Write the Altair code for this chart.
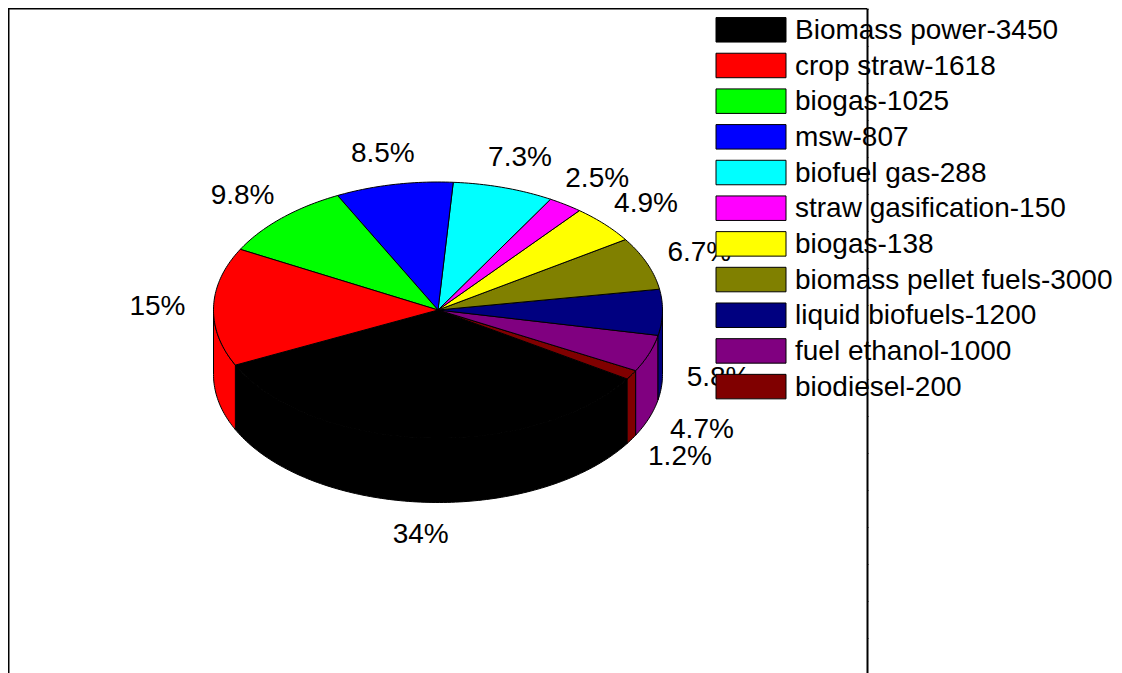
import math
import altair as alt

legend_labels = ["Biomass power-3450", "crop straw-1618", "biogas-1025", "msw-807",
                 "biofuel gas-288", "straw gasification-150", "biogas-138",
                 "biomass pellet fuels-3000", "liquid biofuels-1200",
                 "fuel ethanol-1000", "biodiesel-200"]
colors = ["#000000", "#ff0000", "#00ff00", "#0000ff", "#00ffff", "#ff00ff", "#ffff00",
          "#808000", "#000080", "#800080", "#800000"]
# percentage printed beside each slice, in legend order
pct_labels = ["34%", "15%", "9.8%", "8.5%", "7.3%", "2.5%", "4.9%", "6.7%", "5.8%", "4.7%", "1.2%"]
pct_values = [34, 15, 9.8, 8.5, 7.3, 2.5, 4.9, 6.7, 5.8, 4.7, 1.2]
# counter-clockwise order of the slices round the pie, beginning with the black one
pie_order = [0, 10, 9, 8, 7, 6, 5, 4, 3, 2, 1]

W, H = 859, 665
CX, CY, RX, RY, DEPTH = 430.0, 302.0, 224.5, 128.0, 64.5
START = 205.5
total = sum(pct_values)


def pt(t, dz=0.0, r=1.0):
    a = math.radians(t)
    return [CX + RX * r * math.cos(a), CY - RY * r * math.sin(a) + dz]


def arc(t0, t1, dz=0.0):
    n = max(2, int(abs(t1 - t0)) + 2)
    return [pt(t0 + (t1 - t0) * i / (n - 1), dz) for i in range(n)]


def feature(ring, color):
    return {"type": "Feature", "properties": {"color": color},
            "geometry": {"type": "Polygon", "coordinates": [ring + [ring[0]]]}}


walls, tops, labels = [], [], []
t = START
for idx in pie_order:
    v = pct_values[idx]
    t1 = t + v * 360.0 / total
    tops.append(feature([[CX, CY]] + arc(t, t1), colors[idx]))
    for lo, hi in ((180, 360), (540, 720)):
        a, b = max(t, lo), min(t1, hi)
        if a < b:
            walls.append(feature(arc(a, b) + arc(a, b, DEPTH)[::-1], colors[idx]))
    mid = (t + t1) / 2
    lx, ly = pt(mid, 1.0, 1.25)
    if math.sin(math.radians(mid)) < 0:
        ly += DEPTH
    labels.append({"x": lx, "y": ly, "text": pct_labels[idx]})
    t = t1

x_scale = alt.Scale(domain=[0, W], range=[0, W])
y_scale = alt.Scale(domain=[0, H], range=[0, H])
row_scale = alt.Scale(domain=[0, 10], range=[21.8, 378.6])
row_text_scale = alt.Scale(domain=[0, 10], range=[23.0, 379.8])
FONT = "Liberation Sans"

rows = [{"row": i, "label": legend_labels[i], "color": colors[i]} for i in range(len(legend_labels))]
tick_vals = list(range(1, H, 37))
anchor = [{"a": 0}]

right_axis = alt.Chart(alt.Data(values=anchor)).mark_rule(opacity=0).encode(
    y=alt.Y("a:Q", scale=y_scale, axis=alt.Axis(orient="right", values=tick_vals, labels=False,
            title=None, grid=False, domainColor="black", domainWidth=2, tickColor="#222222",
            tickSize=1, tickWidth=1)))
top_line = alt.Chart(alt.Data(values=anchor)).mark_rule(color="black", strokeWidth=2).encode(
    x=alt.value(0), x2=alt.value(W), y=alt.value(0.5))
left_line = alt.Chart(alt.Data(values=anchor)).mark_rule(color="black", strokeWidth=2).encode(
    x=alt.value(0.5), y=alt.value(0), y2=alt.value(H))

walls_l = alt.Chart(alt.Data(values=walls)).mark_geoshape(stroke="black", strokeWidth=1).encode(
    fill=alt.Fill("properties.color:N", scale=None)).project(type="identity", scale=1, translate=[0, 0])
tops_l = alt.Chart(alt.Data(values=tops)).mark_geoshape(stroke="black", strokeWidth=1).encode(
    fill=alt.Fill("properties.color:N", scale=None)).project(type="identity", scale=1, translate=[0, 0])

pct_l = alt.Chart(alt.Data(values=labels)).mark_text(
    font=FONT, fontSize=28, color="black", align="center", baseline="middle").encode(
    x=alt.X("x:Q", scale=x_scale, axis=None),
    y=alt.Y("y:Q", scale=y_scale, axis=None),
    text="text:N")

swatch = alt.Chart(alt.Data(values=rows)).mark_point(
    shape="M-1,-0.35H1V0.35H-1Z", size=4900, filled=True, stroke="black", strokeWidth=1, opacity=1
).encode(x=alt.value(743), y=alt.Y("row:Q", scale=row_scale, axis=None),
         fill=alt.Fill("color:N", scale=None))
leg_text = alt.Chart(alt.Data(values=rows)).mark_text(
    font=FONT, fontSize=28, color="black", align="left", baseline="middle").encode(
    x=alt.value(787), y=alt.Y("row:Q", scale=row_text_scale, axis=None), text="label:N")

chart = alt.layer(right_axis, top_line, left_line, walls_l, tops_l, pct_l, swatch, leg_text).resolve_scale(
    y="independent", x="independent"
).properties(
    width=W, height=H,
    padding={"left": 0, "top": 0, "right": 247, "bottom": 0},
    autosize=alt.AutoSizeParams(type="none", contains="content"),
    background="white",
).configure_view(stroke=None)

chart.save("out.html", embed_options={"renderer": "svg", "actions": False})
